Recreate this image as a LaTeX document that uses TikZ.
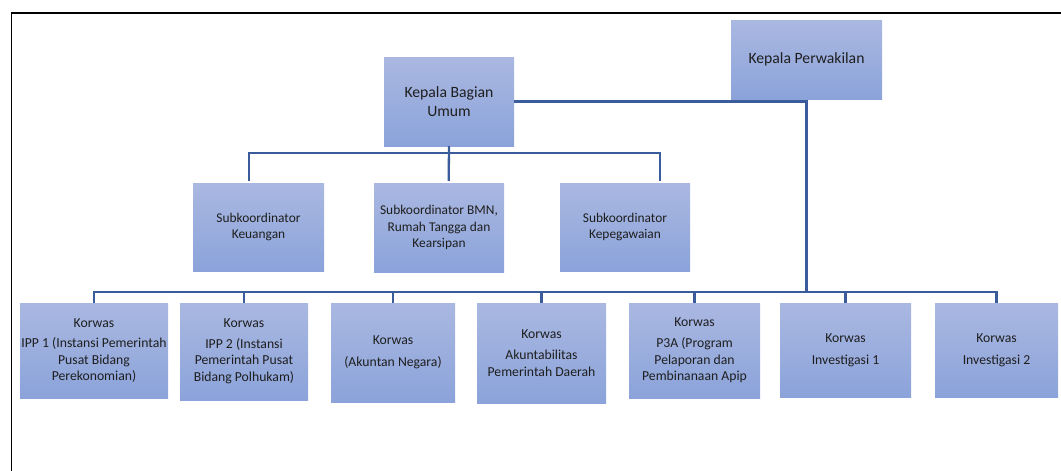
\documentclass[tikz,border=0pt]{standalone}
\usepackage{fontspec}
\setmainfont{Carlito}
\definecolor{boxtop}{HTML}{AAB8E1}
\definecolor{boxbot}{HTML}{8BA3DA}
\definecolor{connc}{HTML}{3A5C9B}
\definecolor{txtc}{HTML}{1E1E1E}
\begin{document}
\begin{tikzpicture}[x=1pt,y=-1pt,
  box/.style={rectangle, top color=boxtop, bottom color=boxbot, draw=none,
    text=txtc, align=center, inner sep=0pt},
  topfont/.style={font=\fontsize{15.7}{19}\selectfont},
  subfont/.style={font=\fontsize{13.4}{16.4}\selectfont},
  botfont/.style={font=\fontsize{13.7}{16.7}\selectfont},
  conn/.style={draw=connc, line width=2.3pt},
  frame/.style={draw=black, line width=1.5pt}]
\useasboundingbox (0,0) rectangle (1061,471);
\draw[frame] (11.3,471) -- (11.3,13) -- (1061,13);

% top level
\node[box, topfont, minimum width=151pt, minimum height=79.5pt] (kp) at (806.5,59.75) {Kepala Perwakilan};
\node[box, topfont, minimum width=130pt, minimum height=89pt] (kbu) at (449,101.5) {Kepala Bagian\\Umum};

% sub level
\node[box, subfont, minimum width=131pt, minimum height=88pt] (s1) at (258.5,227) {Subkoordinator\\Keuangan};
\node[box, subfont, minimum width=130pt, minimum height=89pt] (s2) at (439,227.5) {Subkoordinator BMN,\\Rumah Tangga dan\\Kearsipan};
\node[box, subfont, minimum width=130pt, minimum height=88pt] (s3) at (625,227) {Subkoordinator\\Kepegawaian};

% bottom level
\node[box, botfont, minimum width=148pt, minimum height=95pt] (b1) at (94,350.5) {Korwas\\[3.5pt]IPP 1 (Instansi Pemerintah\\Pusat Bidang\\Perekonomian)};
\node[box, botfont, minimum width=128pt, minimum height=97pt] (b2) at (244,351.5) {Korwas\\[3.5pt]IPP 2 (Instansi\\Pemerintah Pusat\\Bidang Polhukam)};
\node[box, botfont, minimum width=124pt, minimum height=99pt] (b3) at (393,352.5) {Korwas\\[5pt](Akuntan Negara)};
\node[box, botfont, minimum width=129pt, minimum height=100pt] (b4) at (541.5,353) {Korwas\\[5pt]Akuntabilitas\\Pemerintah Daerah};
\node[box, botfont, minimum width=131pt, minimum height=95pt] (b5) at (694.5,350.5) {Korwas\\[4pt]P3A (Program\\Pelaporan dan\\Pembinanaan Apip};
\node[box, botfont, minimum width=131pt, minimum height=94pt] (b6) at (845.5,350) {Korwas\\[5pt]Investigasi 1};
\node[box, botfont, minimum width=123pt, minimum height=94pt] (b7) at (996.5,350) {Korwas\\[5pt]Investigasi 2};

% connector points
\coordinate (d1) at (249,181);
\coordinate (d2) at (448.7,181);
\coordinate (d3) at (660,181);
\coordinate (bus) at (0,292);

% connectors
\draw[conn] (kbu.east) -| (kp.south);
\draw[conn] (kp.south) -- (kp.south |- bus);
\draw[conn] (d1) -- ++(0,-28.3) -| (d3);
\draw[conn] (kbu.south) -- (d2);
\draw[conn] (b1.north) -- (b1.north |- bus) -| (b7.north);
\foreach \b in {b2,b3,b4,b5,b6}{
  \draw[conn] (\b.north) -- (\b.north |- bus);
}
\end{tikzpicture}
\end{document}
